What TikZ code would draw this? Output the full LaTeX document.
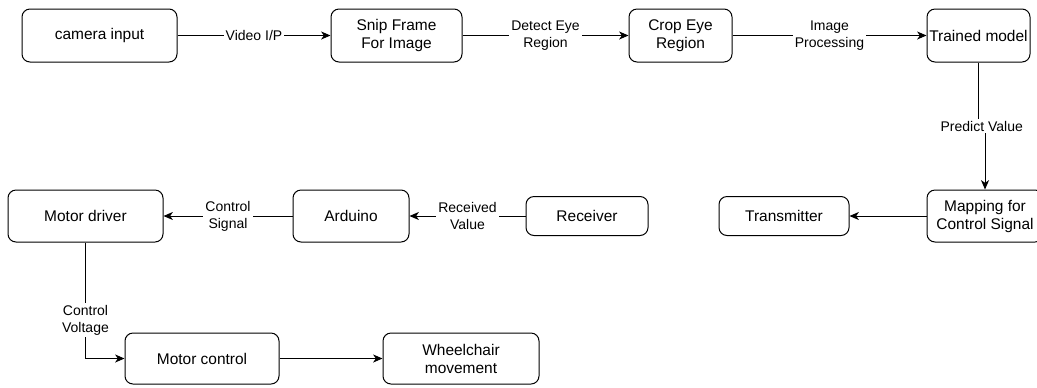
\documentclass[tikz,border=0pt]{standalone}
\usepackage{fontspec}
\setmainfont{Liberation Sans}
\usetikzlibrary{arrows.meta}
\tikzset{
  box/.style={draw, rounded corners=6pt, line width=0.75pt, align=center,
    font=\fontsize{11.6}{13.5}\selectfont, inner sep=0pt},
  lbl/.style={fill=white, align=center, font=\fontsize{10.5}{12.75}\selectfont, inner sep=1.5pt},
  arr/.style={draw, line width=0.75pt, -{Stealth[length=7pt,width=6pt,inset=2pt]}}
}
\begin{document}
\begin{tikzpicture}[x=0.75pt,y=-0.75pt]
\useasboundingbox (0,0) rectangle (1037,387);
\clip (0,0) rectangle (1037,387);
\fill[white] (0,0) rectangle (1037,387);
% top row
\node[box, minimum width=116.25pt, minimum height=39.75pt] (cam) at (99.5,35.5) {camera input};
\node[box, minimum width=98.25pt, minimum height=39.75pt] (snip) at (396.5,35.5) {Snip Frame\\For Image};
\node[box, minimum width=77.25pt, minimum height=39.75pt] (crop) at (680.5,35.5) {Crop Eye\\Region};
\node[box, minimum width=77.25pt, minimum height=39.75pt] (trained) at (978.5,35.5) {Trained model};
% middle row
\node[box, minimum width=87pt, minimum height=39pt] (mapping) at (985,216) {Mapping for\\Control Signal};
\node[box, minimum width=97.5pt, minimum height=29.25pt] (transmitter) at (784,216) {Transmitter};
\node[box, minimum width=91.5pt, minimum height=29.25pt] (receiver) at (587,216) {Receiver};
\node[box, minimum width=87pt, minimum height=39pt] (arduino) at (351,216) {Arduino};
\node[box, minimum width=116.25pt, minimum height=39pt] (motordriver) at (85.5,216) {Motor driver};
% bottom row
\node[box, minimum width=115.5pt, minimum height=38.25pt] (motorcontrol) at (202,358.5) {Motor control};
\node[box, minimum width=117pt, minimum height=38.25pt] (wheelchair) at (461,358.5) {Wheelchair\\movement};
% connectors
\coordinate (jog) at (0,126);
\draw[arr] (cam) -- node[lbl]{Video I/P} (snip);
\draw[arr] (snip) -- node[lbl]{Detect Eye\\Region} (crop);
\draw[arr] (crop) -- node[lbl]{Image\\Processing} (trained);
\draw[arr] (trained.south) -- (trained.south |- jog) -- node[lbl]{Predict Value} (mapping.north |- jog) -- (mapping.north);
\draw[arr] (mapping) -- (transmitter);
\draw[arr] (receiver) -- node[lbl]{Received\\Value} (arduino);
\draw[arr] (arduino) -- node[lbl]{Control\\Signal} (motordriver);
\draw[arr] (motordriver.south) |- node[lbl, pos=0.334]{Control\\Voltage} (motorcontrol.west);
\draw[arr] (motorcontrol) -- (wheelchair);
\end{tikzpicture}
\end{document}
